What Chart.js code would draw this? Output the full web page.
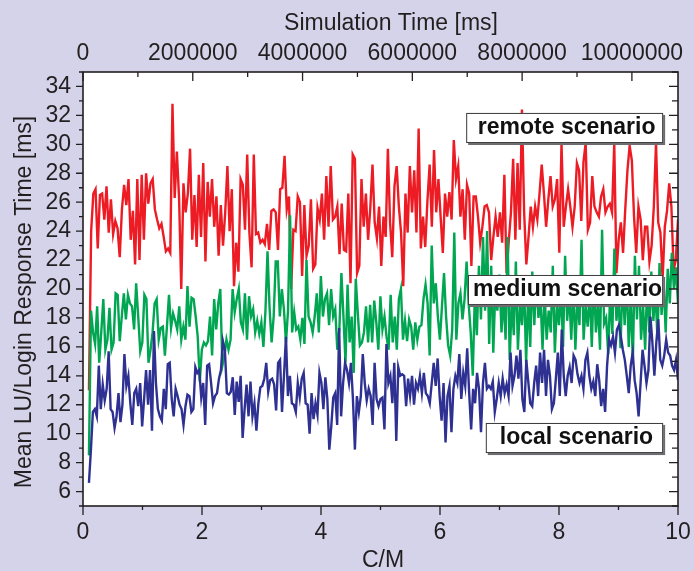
<!DOCTYPE html>
<html lang="en">
<head>
    <meta charset="UTF-8">
    <title>Mean LU/Login Response Time</title>
    <script src="https://cdn.jsdelivr.net/npm/chart.js"></script>
    <style>
        html, body { margin: 0; padding: 0; background: #d5d3e9; }
    </style>
</head>
<body>
    <canvas id="responseChart" width="694" height="571"></canvas>

    <script>
        // x ticks (C/M), top axis ticks (simulation time), y ticks
        const cmTicks = [0, 2, 4, 6, 8, 10];
        const simTimeTicks = [0, 2000000, 4000000, 6000000, 8000000, 10000000];
        const yTicks = [6, 8, 10, 12, 14, 16, 18, 20, 22, 24, 26, 28, 30, 32, 34];
        const cmStart = 0.1;
        const cmEnd = 10;

        // remote scenario (red)
        const remoteMs = [
            13.0, 24.0, 26.6, 26.9, 22.8, 26.5, 26.6, 24.8, 27.1, 23.9,
            26.2, 23.8, 24.7, 24.2, 22.2, 25.5, 27.2, 25.8, 27.6, 23.4,
            25.4, 21.7, 27.6, 22.0, 27.9, 23.4, 28.0, 25.9, 27.3, 27.6,
            25.5, 24.8, 24.2, 24.5, 23.6, 22.6, 22.8, 22.5, 32.8, 26.3,
            29.5, 26.3, 20.0, 27.3, 25.3, 26.6, 29.7, 23.4, 26.5, 22.9,
            27.9, 23.6, 28.7, 21.9, 27.4, 25.0, 27.6, 24.3, 26.4, 22.3,
            25.8, 23.0, 25.3, 28.5, 24.0, 26.9, 20.2, 23.2, 21.2, 27.6,
            27.2, 24.1, 29.3, 23.9, 21.5, 29.3, 23.8, 23.9, 23.2, 23.4,
            23.1, 24.5, 22.7, 25.4, 25.5,
            25.3, 22.7, 26.9, 27.0, 29.2, 25.5, 26.4, 20.0, 24.1, 24.0,
            26.4, 26.0, 20.9, 25.8, 22.3, 23.0, 26.2, 21.4, 21.7, 25.6,
            24.8, 26.6, 23.4, 27.8, 24.3, 28.5, 24.8, 25.0, 25.7, 22.4,
            25.9, 22.7, 22.6, 26.6, 20.4, 29.3, 29.0, 21.1, 21.6, 27.6,
            24.3, 26.6, 23.4, 25.6, 28.6, 24.6, 23.5, 25.7, 21.6, 25.0,
            23.6, 29.7, 24.6, 22.2, 27.1, 28.5, 25.7, 23.9, 20.2, 26.6,
            23.9, 28.5, 25.3, 28.2, 23.9, 31.1, 22.8, 25.0, 22.9, 26.1,
            28.6, 24.3, 29.6, 25.3, 27.6, 25.0, 22.5, 26.6, 25.0, 26.7,
            24.8, 30.3, 27.6, 28.5, 25.0, 26.9, 23.4, 27.2, 26.6, 21.6,
            26.4,
            26.4, 25.0, 23.2, 24.3, 25.7, 25.8, 25.3, 22.0, 23.6, 25.0,
            23.6, 25.3, 23.2, 27.9, 21.1, 23.3, 25.3, 29.0, 23.4, 28.7,
            24.1, 32.4, 25.3, 21.7, 23.6, 25.7, 24.3, 25.7, 24.8, 26.6,
            28.6, 26.6, 24.3, 26.2, 27.8, 25.7, 26.2, 27.6, 22.5, 30.1,
            24.3, 25.7, 26.9, 25.7, 24.3, 25.7, 28.7, 28.2, 24.7, 28.8,
            30.1, 24.1, 24.6, 27.8, 25.7, 25.3, 25.0, 26.4, 26.9, 25.3,
            25.7, 25.9, 25.3, 30.1, 21.1, 23.4, 24.6, 22.5, 25.5, 28.2,
            29.9, 28.9, 25.0, 22.5, 25.7, 24.8, 22.0, 24.3, 24.3, 21.9,
            23.0, 25.7, 30.1, 24.6, 23.9, 20.7, 24.3, 25.4, 27.3, 25.7,
            21.3, 22.0, 24.8
        ];

        // medium scenario (green)
        const mediumMs = [
            8.5, 18.5, 17.0, 16.2, 18.8, 14.9, 17.0, 19.3, 15.8, 16.5,
            18.7, 15.8, 16.3, 19.7, 19.6, 16.4, 18.1, 19.7, 17.9, 19.6,
            19.0, 18.8, 17.2, 20.4, 18.1, 15.7, 16.3, 19.6, 19.3, 14.9,
            15.8, 17.0, 19.0, 19.3, 16.5, 17.3, 17.4, 15.4, 17.4, 19.6,
            17.3, 18.3, 17.8, 17.2, 18.8, 16.5, 17.4, 16.5, 20.2, 17.4,
            19.4, 19.3, 18.1, 16.7, 13.6, 15.8, 16.3, 16.1, 16.4, 18.1,
            15.4, 19.3, 17.2, 19.0, 20.0, 14.7, 15.4, 16.5, 15.8, 16.5,
            20.0, 18.4, 19.3, 20.0, 17.7, 17.2, 19.7, 16.5, 19.5, 18.1,
            18.6, 17.0, 17.8, 16.9, 17.7, 16.0, 18.5, 22.6, 18.7, 16.3,
            18.1, 21.9,
            21.9, 18.1, 20.0, 18.6, 16.3, 18.5, 25.1, 17.0, 18.4, 17.2,
            17.4, 16.5, 18.0, 16.2, 22.0, 18.1, 17.7, 17.0, 18.1, 19.7,
            17.0, 20.9, 18.1, 19.3, 19.7, 17.5, 20.0, 18.1, 18.6, 15.8,
            17.2, 21.1, 18.1, 14.9, 20.3, 16.3, 18.1, 14.2, 20.7, 18.3,
            16.1, 16.3, 17.0, 18.8, 16.3, 18.9, 16.3, 19.2, 17.7, 15.8,
            19.5, 17.2, 18.1, 16.7, 15.8, 19.6, 16.3, 18.1, 15.8, 19.3,
            20.0, 16.5, 17.8, 16.4, 17.9, 17.4, 15.8, 17.7, 16.5, 17.4,
            17.5, 19.3, 20.3, 19.0, 15.4, 23.0, 19.0, 20.4, 18.1, 16.5,
            18.8, 21.1, 18.1, 16.1, 15.4, 17.2, 23.9, 16.5, 19.0, 19.7,
            17.9, 19.3, 21.9, 19.0, 17.0, 14.0,
            19.5, 16.8, 21.6, 17.9, 23.6, 18.5, 24.0, 16.2, 21.6, 15.6,
            20.0, 18.5, 21.0, 17.0, 19.5, 16.5, 23.6, 15.1, 19.2, 16.8,
            21.9, 15.8, 19.0, 17.5, 20.5, 14.9, 19.8, 16.0, 21.2, 17.5,
            20.9, 18.0, 19.5, 15.8, 19.8, 16.5, 18.5, 17.0, 21.6, 15.6,
            19.0, 17.5, 20.0, 16.0, 22.3, 17.8, 19.8, 16.5, 20.3, 15.8,
            19.5, 17.5, 23.4, 16.5, 18.8, 17.4, 19.9, 16.0, 20.8, 17.0,
            19.0, 15.8, 24.1, 17.6, 18.0, 15.5, 20.0, 16.9, 22.8, 17.8,
            19.5, 15.9, 20.9, 17.5, 20.9, 16.0, 19.5, 14.9, 22.3, 17.9,
            21.6, 16.5, 18.8, 15.8, 20.5, 17.0, 21.2, 17.8, 20.0, 16.5,
            21.8, 18.2, 20.5, 17.0, 21.4, 19.0, 22.5, 20.0, 21.5, 19.0
        ];

        // local scenario (blue)
        const localMs = [
            6.6, 8.9, 11.5, 11.7, 11.2, 14.7, 11.7, 13.4, 12.3, 13.1,
            15.7, 11.7, 11.5, 10.4, 11.2, 12.8, 10.8, 12.0, 15.5, 13.3,
            14.0, 12.1, 10.6, 12.8, 13.1, 11.9, 13.5, 10.5, 12.4, 14.4,
            12.0, 14.4, 10.2, 17.1, 13.5, 11.7, 11.2, 10.9, 13.1, 11.7,
            14.8, 14.9, 12.4, 11.2, 13.1, 12.6, 12.0, 11.7, 10.6, 11.9,
            12.7, 12.6, 11.5, 11.7, 14.6, 14.2, 14.4, 12.5, 13.5, 10.6,
            14.7, 14.8, 13.5, 12.1, 12.6, 12.8, 13.8, 14.4, 16.4, 15.8,
            12.8, 12.7, 12.9, 13.9, 11.3, 13.6, 12.2, 14.0, 9.7, 11.7,
            13.4, 11.2, 13.6, 11.2, 12.1, 10.2, 12.1, 13.2, 13.3, 13.8,
            14.9, 12.9, 13.7, 13.8, 13.4, 11.6, 14.9, 15.1,
            11.5, 14.0, 16.7, 12.6, 14.0, 12.1, 12.0, 11.5, 13.5, 12.5,
            13.8, 14.2, 12.1, 12.0, 10.0, 12.8, 11.0, 12.1, 11.3, 14.2,
            13.5, 11.7, 13.9, 12.4, 8.9, 10.5, 12.5, 12.8, 10.6, 17.3,
            11.2, 13.5, 14.9, 14.4, 13.5, 14.9, 12.4, 8.9, 12.6, 11.5,
            12.6, 15.5, 13.5, 12.3, 13.1, 12.6, 10.6, 14.9, 12.4, 11.9,
            12.4, 12.5, 10.3, 16.2, 13.5, 14.0, 12.1, 14.9, 9.5, 14.6,
            14.0, 14.1, 14.0, 11.9, 13.8, 12.6, 14.0, 12.0, 13.5, 13.1,
            14.0, 12.8, 14.2, 12.8, 12.6, 12.1, 13.5, 14.9, 13.3, 15.2,
            12.6, 10.9, 13.5, 9.4, 12.6, 13.3, 10.1, 13.1, 14.0, 13.5,
            15.5, 12.4, 14.2, 13.3, 15.9, 12.8, 10.3, 13.1, 12.1, 14.2,
            13.1, 10.1, 13.5, 14.9, 13.1, 13.3, 13.1, 13.6, 11.5, 12.4,
            13.5, 12.6, 13.8, 12.8, 13.4, 12.6, 15.6, 13.3, 14.0, 15.4,
            13.8, 15.8, 12.4, 11.5, 15.1, 13.6, 12.1, 11.9, 13.5, 14.7,
            12.6, 15.6, 13.5, 15.8, 12.6, 15.1, 14.0, 11.7, 12.1, 13.8,
            15.6, 12.6, 17.2, 14.0, 12.6, 14.0, 14.6, 13.5, 15.4, 15.1,
            14.1, 13.5, 14.0, 13.1, 15.1, 15.6, 14.0, 13.1, 13.6, 12.6,
            14.8, 13.7, 11.9, 13.1, 11.5, 14.7, 16.5, 16.1, 16.7, 15.6,
            17.2, 17.5, 16.7, 15.8, 15.1, 14.0, 12.8, 14.7, 15.6, 13.7,
            12.8, 11.2, 13.5, 15.8, 14.7, 13.5, 14.4, 18.1, 16.3, 14.0,
            16.3, 17.9, 15.1, 14.7, 15.4, 16.5, 15.6, 15.4, 14.7, 14.4,
            15.1, 13.7
        ];

        // label boxes, in data units (C/M, ms)
        const scenarioBoxes = [
            { text: 'remote scenario', x0: 6.44, x1: 9.75, y0: 32.17, y1: 30.09 },
            { text: 'medium scenario', x0: 6.47, x1: 9.75, y0: 20.97, y1: 18.89 },
            { text: 'local scenario', x0: 6.77, x1: 9.75, y0: 10.74, y1: 8.66 }
        ];

        const fontFamily = '"Liberation Sans", Arial, Helvetica, sans-serif';
        const inkColor = '#231f20';
        const pageBg = '#d5d3e9';

        function toPoints(values) {
            const step = (cmEnd - cmStart) / (values.length - 1);
            return values.map((v, i) => ({ x: cmStart + i * step, y: v }));
        }

        // fixed box sizes so the plot area lands where the original has it
        function fitHorizontal(height) {
            return s => {
                s.height = height;
                s.paddingLeft = 0;
                s.paddingRight = 0;
            };
        }

        // background, frame, tick marks, titles and label boxes
        const decorPlugin = {
            id: 'decor',
            beforeDraw(chart) {
                const { ctx, chartArea: a } = chart;
                ctx.save();
                ctx.fillStyle = pageBg;
                ctx.fillRect(0, 0, chart.width, chart.height);
                ctx.fillStyle = '#ffffff';
                ctx.fillRect(a.left, a.top, a.right - a.left, a.bottom - a.top);
                ctx.restore();
            },
            afterDatasetsDraw(chart) {
                const { ctx, chartArea: a, scales } = chart;
                ctx.save();

                // scenario boxes
                scenarioBoxes.forEach(b => {
                    const l = scales.x.getPixelForValue(b.x0);
                    const r = scales.x.getPixelForValue(b.x1);
                    const t = scales.y.getPixelForValue(b.y0);
                    const btm = scales.y.getPixelForValue(b.y1);
                    ctx.fillStyle = '#6d6b70';
                    ctx.fillRect(l + 2, t + 2, r - l, btm - t);
                    ctx.fillStyle = '#ffffff';
                    ctx.fillRect(l, t, r - l, btm - t);
                    ctx.strokeStyle = '#3a3a3a';
                    ctx.lineWidth = 1;
                    ctx.strokeRect(l + 0.5, t + 0.5, r - l - 1, btm - t - 1);
                    ctx.fillStyle = '#111111';
                    ctx.font = 'bold 23px ' + fontFamily;
                    ctx.textAlign = 'center';
                    ctx.textBaseline = 'alphabetic';
                    ctx.fillText(b.text, (l + r) / 2 + 2, t + 21);
                });

                // frame
                ctx.strokeStyle = inkColor;
                ctx.lineWidth = 1.6;
                ctx.strokeRect(a.left, a.top, a.right - a.left, a.bottom - a.top);

                // tick marks: left/bottom outward, top/right inward
                ctx.lineWidth = 1.3;
                ctx.beginPath();
                for (let v = 5; v <= 35; v++) {
                    const py = scales.y.getPixelForValue(v);
                    const major = v % 2 === 0;
                    ctx.moveTo(a.left - (major ? 7 : 4), py);
                    ctx.lineTo(a.left, py);
                    ctx.moveTo(a.right - (major ? 9 : 6), py);
                    ctx.lineTo(a.right, py);
                }
                for (let v = 0; v <= 10; v++) {
                    const px = scales.x.getPixelForValue(v);
                    ctx.moveTo(px, a.bottom);
                    ctx.lineTo(px, a.bottom + (v % 2 === 0 ? 9 : 4));
                }
                for (let v = 0; v <= 10000000; v += 1000000) {
                    const px = scales.simTime.getPixelForValue(v);
                    ctx.moveTo(px, a.top);
                    ctx.lineTo(px, a.top + ((v / 1000000) % 2 === 0 ? 9 : 5));
                }
                ctx.stroke();
                ctx.restore();
            },
            afterDraw(chart) {
                const { ctx } = chart;
                ctx.save();
                ctx.fillStyle = inkColor;
                ctx.font = '23px ' + fontFamily;
                ctx.textAlign = 'center';
                ctx.textBaseline = 'alphabetic';
                ctx.fillText('Simulation Time [ms]', 391, 30);
                ctx.fillText('C/M', 383, 567);
                ctx.translate(31, 302);
                ctx.rotate(-Math.PI / 2);
                ctx.fillText('Mean LU/Login Response Time [ms]', 0, 0);
                ctx.restore();
            }
        };

        const tickFont = { family: fontFamily, size: 23 };

        const ctx = document.getElementById('responseChart').getContext('2d');
        new Chart(ctx, {
            type: 'line',
            data: {
                datasets: [
                    { label: 'local scenario', data: toPoints(localMs), borderColor: '#2e3192', borderWidth: 2.4 },
                    { label: 'medium scenario', data: toPoints(mediumMs), borderColor: '#00a651', borderWidth: 2.4 },
                    { label: 'remote scenario', data: toPoints(remoteMs), borderColor: '#ed1c24', borderWidth: 2.4 }
                ]
            },
            options: {
                responsive: false,
                animation: false,
                devicePixelRatio: 1,
                layout: { padding: { right: 16 } },
                elements: {
                    point: { radius: 0 },
                    line: { tension: 0, fill: false }
                },
                plugins: {
                    legend: { display: false },
                    tooltip: { enabled: false }
                },
                scales: {
                    x: {
                        type: 'linear',
                        position: 'bottom',
                        min: 0,
                        max: 10,
                        afterFit: fitHorizontal(65),
                        afterBuildTicks: s => { s.ticks = cmTicks.map(v => ({ value: v })); },
                        grid: { display: false, drawTicks: false },
                        border: { display: false },
                        ticks: { font: tickFont, color: inkColor, padding: 13, maxRotation: 0, autoSkip: false, callback: v => String(v) }
                    },
                    simTime: {
                        type: 'linear',
                        axis: 'x',
                        position: 'top',
                        min: 0,
                        max: 10840000,
                        afterFit: fitHorizontal(72),
                        afterBuildTicks: s => { s.ticks = simTimeTicks.map(v => ({ value: v })); },
                        grid: { display: false, drawTicks: false },
                        border: { display: false },
                        ticks: { font: tickFont, color: inkColor, padding: 5, maxRotation: 0, autoSkip: false, callback: v => String(v) }
                    },
                    y: {
                        type: 'linear',
                        position: 'left',
                        min: 5,
                        max: 35,
                        afterFit: s => { s.width = 83; s.paddingTop = 0; s.paddingBottom = 0; },
                        afterBuildTicks: s => { s.ticks = yTicks.map(v => ({ value: v })); },
                        grid: { display: false, drawTicks: false },
                        border: { display: false },
                        ticks: { font: tickFont, color: inkColor, padding: 12, autoSkip: false, callback: v => String(v) }
                    }
                }
            },
            plugins: [decorPlugin]
        });
    </script>
</body>
</html>
